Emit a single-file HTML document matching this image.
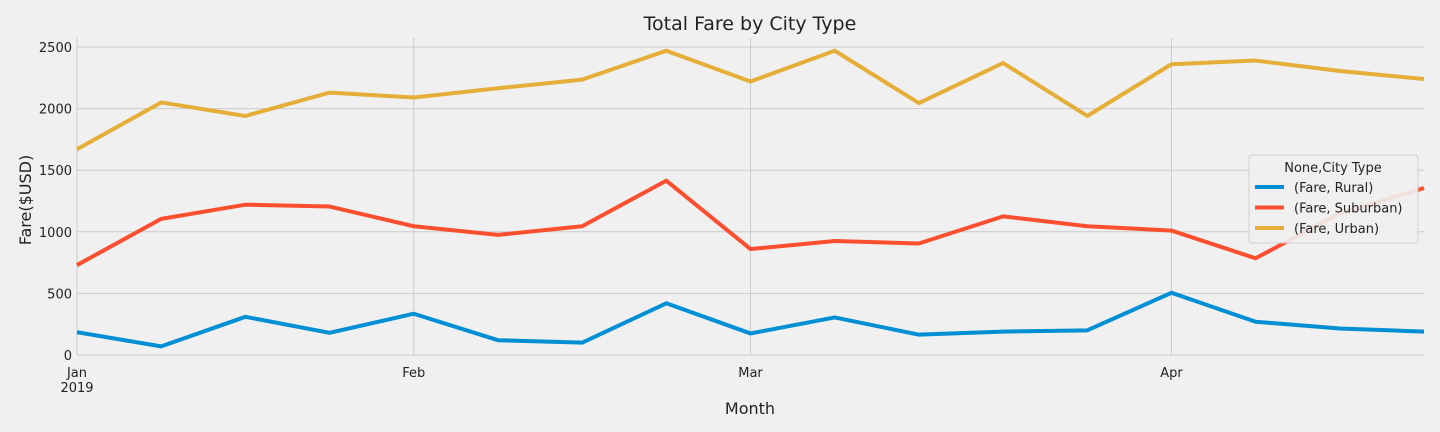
<!DOCTYPE html>
<html><head><meta charset="utf-8"><style>
html,body{margin:0;padding:0;background:#f0f0f0;}
svg{display:block;font-family:"DejaVu Sans","Liberation Sans",sans-serif;}
</style></head><body>
<svg id="chart" width="1440" height="432" xmlns="http://www.w3.org/2000/svg"></svg>
<script>
const weeks = ["2019-01-06","2019-01-13","2019-01-20","2019-01-27","2019-02-03","2019-02-10","2019-02-17","2019-02-24","2019-03-03","2019-03-10","2019-03-17","2019-03-24","2019-03-31","2019-04-07","2019-04-14","2019-04-21","2019-04-28"];
const rural = [185,70,310,180,335,120,100,420,175,305,165,190,200,505,270,215,190];
const suburban = [730,1105,1220,1205,1045,975,1045,1415,860,925,905,1125,1045,1010,785,1150,1355];
const urban = [1670,2050,1940,2130,2090,2165,2235,2470,2220,2470,2045,2370,1940,2360,2390,2305,2240];
const yTicks = [0,500,1000,1500,2000,2500];
const monthLabels = ["Jan","Feb","Mar","Apr"];
const monthIdx = [0,4,8,13];
const seriesNames = ["(Fare, Rural)","(Fare, Suburban)","(Fare, Urban)"];
const seriesColors = ["#008fd5","#fc4f30","#e5ae38"];

const svg = document.getElementById('chart');
const NS = 'http://www.w3.org/2000/svg';
const L=77,R=1424,T=38,B=355;
const x = i => L + i*(R-L)/(weeks.length-1);
const y = v => B - v*(B-47)/2500;
function mk(tag, attrs, parent){const e=document.createElementNS(NS,tag);for(const k in attrs)e.setAttribute(k,attrs[k]);(parent||svg).appendChild(e);return e;}

yTicks.forEach(t=>{
  const g=mk('line',{x1:L,x2:R,y1:y(t),y2:y(t),stroke:'#cbcbcb','stroke-width':1});
  
  
  const tx=mk('text',{x:72,y:y(t)+5,'text-anchor':'end','font-size':13,fill:'#222'});
  tx.textContent=t;
  
  
});
monthIdx.forEach((mi,k)=>{
  const g=mk('line',{x1:x(mi),x2:x(mi),y1:T,y2:B,stroke:'#cbcbcb','stroke-width':1});
  
  
  const tx=mk('text',{x:x(mi),y:377,'text-anchor':'middle','font-size':13,fill:'#222'});
  tx.textContent=monthLabels[k];
  
  
});
const yr=mk('text',{x:x(0),y:392,'text-anchor':'middle','font-size':13,fill:'#222'});
yr.textContent='2019';



[rural,suburban,urban].forEach((s,si)=>{
  const p=mk('polyline',{points:s.map((v,i)=>x(i)+','+y(v)).join(' '),fill:'none',stroke:seriesColors[si],'stroke-width':4,'stroke-linejoin':'round'});
  
  
});

const title=mk('text',{x:750,y:30,'text-anchor':'middle','font-size':19,fill:'#222'});
title.textContent='Total Fare by City Type';


const xt=mk('text',{x:750,y:414,'text-anchor':'middle','font-size':16,fill:'#222'});
xt.textContent='Month';


const yt=mk('text',{x:31,y:200,'text-anchor':'middle','font-size':16,fill:'#222',transform:'rotate(-90 31 200)'});
yt.textContent='Fare($USD)';



const lg=mk('g',{});


mk('rect',{x:1249,y:155,width:169,height:88,rx:3,fill:'#f0f0f0',stroke:'#cccccc','stroke-width':1,opacity:0.9},lg);
const lt=mk('text',{x:1333,y:172,'text-anchor':'middle','font-size':13,fill:'#222'},lg);
lt.textContent='None,City Type';
seriesNames.forEach((n,i)=>{
  const yy=187+i*20.5;
  const ln=mk('line',{x1:1255,x2:1284,y1:yy,y2:yy,stroke:seriesColors[i],'stroke-width':4},lg);
  
  
  const t=mk('text',{x:1294,y:yy+5,'font-size':13,fill:'#222'},lg);
  t.textContent=n;
  
  
});
</script>
</body></html>
